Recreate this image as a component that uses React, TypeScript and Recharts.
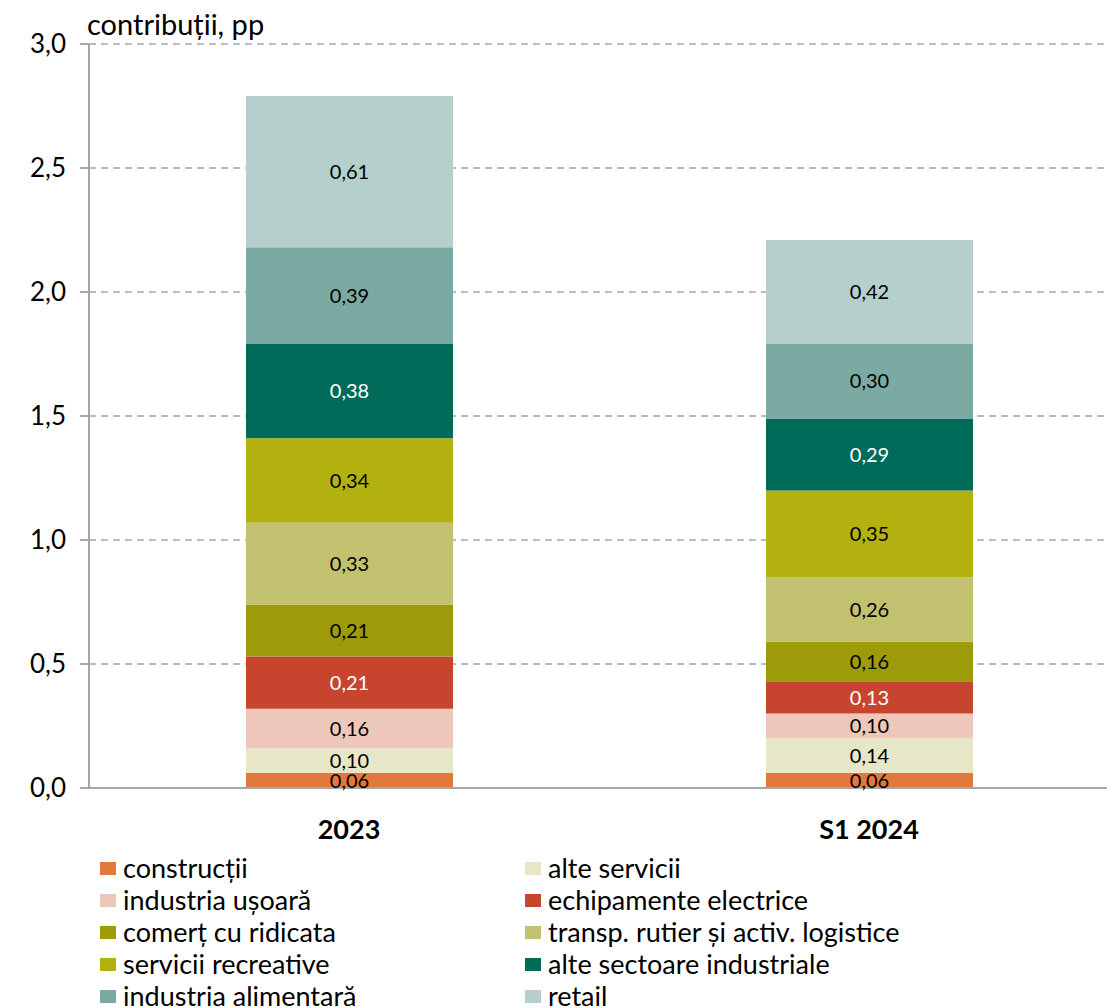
import React from "react";
import { BarChart, Bar, XAxis, YAxis, CartesianGrid, LabelList, Legend } from "recharts";

const categories = ["2023", "S1 2024"];
const seriesNames = [
  "construcții",
  "alte servicii",
  "industria ușoară",
  "echipamente electrice",
  "comerț cu ridicata",
  "transp. rutier și activ. logistice",
  "servicii recreative",
  "alte sectoare industriale",
  "industria alimentară",
  "retail",
];
const constructii = [0.06, 0.06];
const alteServicii = [0.1, 0.14];
const industriaUsoara = [0.16, 0.1];
const echipamenteElectrice = [0.21, 0.13];
const comertCuRidicata = [0.21, 0.16];
const transpRutier = [0.33, 0.26];
const serviciiRecreative = [0.34, 0.35];
const alteSectoare = [0.38, 0.29];
const industriaAlimentara = [0.39, 0.3];
const retail = [0.61, 0.42];
const yTicks = [0, 0.5, 1, 1.5, 2, 2.5, 3];

const seriesValues = [
  constructii,
  alteServicii,
  industriaUsoara,
  echipamenteElectrice,
  comertCuRidicata,
  transpRutier,
  serviciiRecreative,
  alteSectoare,
  industriaAlimentara,
  retail,
];
const colors = [
  "#E2793B",
  "#E7E6C6",
  "#EDC7B9",
  "#C7452F",
  "#9E9B0B",
  "#C2C170",
  "#B3B10F",
  "#006B59",
  "#7BAAA3",
  "#B5CFCC",
];
const labelColors = ["#000", "#000", "#000", "#fff", "#000", "#000", "#000", "#fff", "#000", "#000"];

const data = categories.map((c, i) => {
  const row: Record<string, any> = { name: c };
  seriesNames.forEach((s, k) => {
    row["s" + k] = seriesValues[k][i];
  });
  return row;
});

const FONT = "Lato, 'Noto Sans', sans-serif";
const fmt = (v: number) => v.toFixed(1).replace(".", ",");
const fmt2 = (v: any) => Number(v).toFixed(2).replace(".", ",");
const GRAY = "#A6A6A6";

const LegendContent = () => {
  return (
    <div
      style={{
        display: "grid",
        gridTemplateColumns: "425px 450px",
        rowGap: 0,
        fontFamily: FONT,
        fontSize: 27,
        color: "#000",
      }}
    >
      {seriesNames.map((s, k) => (
        <div
          key={s}
          style={{ display: "flex", alignItems: "center", height: 32, whiteSpace: "nowrap" }}
        >
          <span
            style={{
              display: "inline-block",
              width: 16,
              height: 13,
              background: colors[k],
              marginRight: 7,
              flex: "none",
            }}
          />
          <span style={{ lineHeight: "32px" }}>{s}</span>
        </div>
      ))}
    </div>
  );
};

const XTick = (props: any) => {
  const { x, y, payload } = props;
  return (
    <text
      x={x}
      y={y + 43}
      textAnchor="middle"
      fontFamily={FONT}
      fontSize={27}
      fontWeight={700}
      fill="#000"
    >
      {payload.value}
    </text>
  );
};

export default function App() {
  return (
    <div style={{ width: 1107, height: 1000, overflow: "hidden", position: "relative" }}>
      <BarChart
        width={1130}
        height={1000}
        data={data}
        margin={{ top: 36, right: 9, left: 0, bottom: 160 }}
      >
        <CartesianGrid
          vertical={false}
          stroke={GRAY}
          strokeWidth={1.5}
          strokeDasharray="7 5"
          horizontalValues={[0.5, 1, 1.5, 2, 2.5, 3]}
        />
        <XAxis
          xAxisId="edge"
          type="number"
          domain={[0, 2]}
          ticks={[0, 1, 2]}
          tick={false}
          axisLine={false}
          tickLine={{ stroke: GRAY, strokeWidth: 2 }}
          tickSize={9}
          height={1}
        />
        <XAxis
          dataKey="name"
          axisLine={{ stroke: GRAY, strokeWidth: 2 }}
          tickLine={false}
          tick={<XTick />}
          height={59}
          interval={0}
        />
        <YAxis
          width={81}
          domain={[0, 3]}
          ticks={yTicks}
          tickFormatter={fmt}
          axisLine={{ stroke: GRAY, strokeWidth: 2 }}
          tickLine={{ stroke: GRAY, strokeWidth: 2 }}
          tickSize={9}
          tickMargin={14}
          tick={{ fontFamily: FONT, fontSize: 26, fill: "#000" }}
          label={{
            content: (p: any) => {
              const vb = p.viewBox || {};
              return (
                <text
                  x={(vb.x || 0) + (vb.width || 0) - 2}
                  y={(vb.y || 0) - 9}
                  fontFamily={FONT}
                  fontSize={29}
                  fill="#000"
                >
                  contribuții, pp
                </text>
              );
            },
          }}
        />
        <Legend
          layout="vertical"
          align="center"
          verticalAlign="middle"
          content={<LegendContent />}
          wrapperStyle={{ position: "absolute", top: 844, left: 92, width: 900 }}
        />
        {seriesNames.map((s, k) => (
          <Bar
            key={s}
            dataKey={"s" + k}
            name={s}
            stackId="a"
            fill={colors[k]}
            barSize={207}
            isAnimationActive={false}
          >
            <LabelList
              dataKey={"s" + k}
              position="center"
              formatter={fmt2}
              fill={labelColors[k]}
              fontFamily={FONT}
              fontSize={20}
            />
          </Bar>
        ))}
      </BarChart>
    </div>
  );
}
